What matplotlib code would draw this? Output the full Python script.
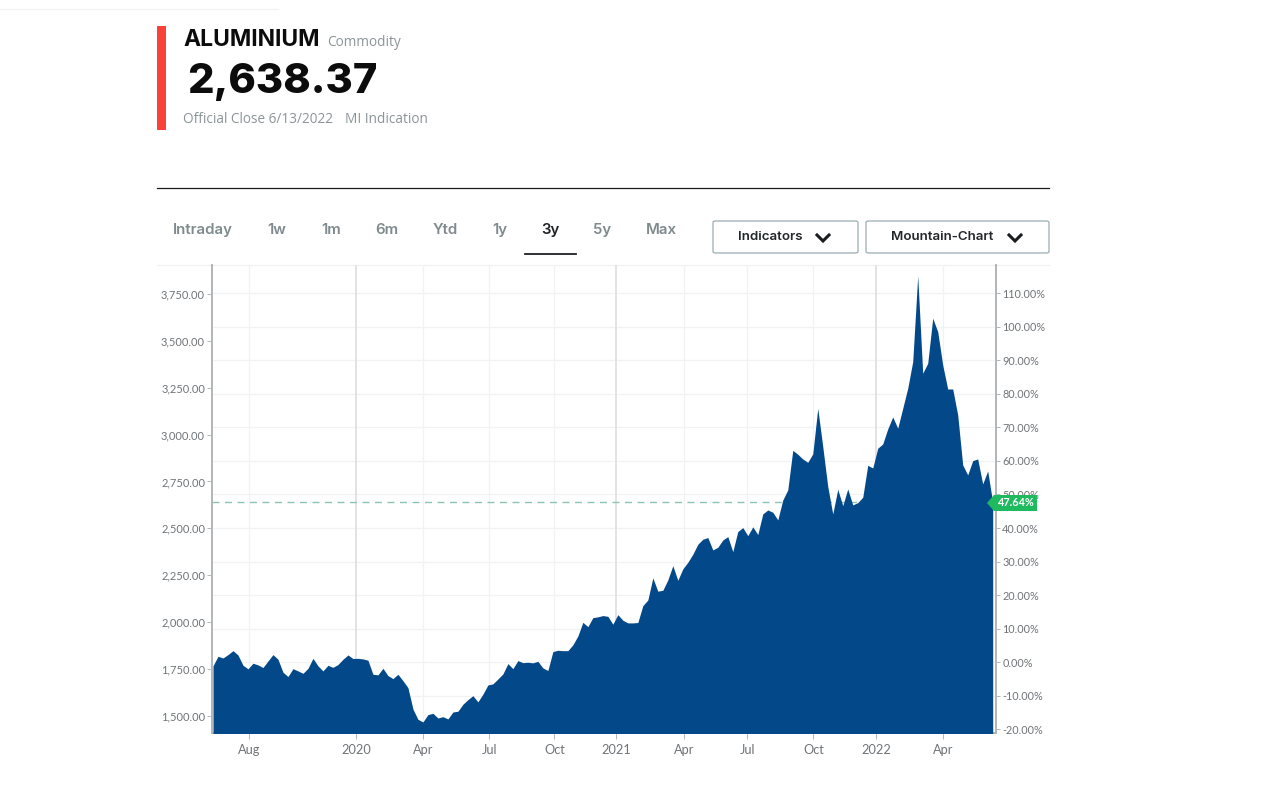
import matplotlib

matplotlib.use("Agg")
import matplotlib.dates as mdates
import matplotlib.pyplot as plt
import pandas as pd
from matplotlib.lines import Line2D
from matplotlib.patches import FancyBboxPatch, Polygon, Rectangle

# weekly closes
values = [
    1767, 1818, 1809, 1827, 1848, 1825, 1770, 1751, 1781, 1772,
    1758, 1793, 1827, 1802, 1733, 1710, 1752, 1740, 1727, 1754,
    1807, 1767, 1740, 1770, 1759, 1774, 1802, 1825, 1806, 1807,
    1804, 1797, 1722, 1719, 1754, 1715, 1699, 1722, 1688, 1651,
    1537, 1482, 1468, 1507, 1514, 1489, 1496, 1484, 1521, 1525,
    1562, 1587, 1608, 1575, 1616, 1665, 1671, 1697, 1724, 1779,
    1752, 1795, 1784, 1786, 1783, 1791, 1756, 1742, 1843, 1850,
    1848, 1848, 1879, 1926, 1999, 1976, 2024, 2028, 2035, 2031,
    1989, 2040, 2010, 1996, 1996, 1998, 2088, 2118, 2236, 2165,
    2170, 2225, 2301, 2223, 2284, 2319, 2362, 2415, 2442, 2451,
    2385, 2399, 2438, 2456, 2376, 2483, 2504, 2461, 2508, 2467,
    2577, 2598, 2586, 2545, 2651, 2705, 2916, 2895, 2870, 2852,
    2897, 3140, 2936, 2723, 2577, 2708, 2621, 2710, 2625, 2637,
    2666, 2836, 2822, 2927, 2950, 3030, 3094, 3034, 3140, 3247,
    3389, 3846, 3327, 3380, 3620, 3549, 3371, 3243, 3243, 3105,
    2838, 2785, 2861, 2870, 2737, 2806, 2638.37,
]
dates = pd.date_range(end="2022-06-13", periods=len(values), freq="7D")

tick_dates = ["2019-08-07", "2020-01-03", "2020-04-06", "2020-07-08", "2020-10-07", "2021-01-02",
              "2021-04-07", "2021-07-04", "2021-10-05", "2022-01-01", "2022-04-04"]
tick_labels = ["Aug", "2020", "Apr", "Jul", "Oct", "2021", "Apr", "Jul", "Oct", "2022", "Apr"]
year_labels = ["2020", "2021", "2022"]

price_ticks = [1500, 1750, 2000, 2250, 2500, 2750, 3000, 3250, 3500, 3750]
pct_ticks = [-20, -10, 0, 10, 20, 30, 40, 50, 60, 70, 80, 90, 100, 110]

last_close = 2638.37
last_pct = 47.64
tabs = ["Intraday", "1w", "1m", "6m", "Ytd", "1y", "3y", "5y", "Max"]
tab_centers = [203, 277, 331, 387, 445, 500, 550, 602, 661]

WIDTH, HEIGHT = 1280, 788
FILL = "#03498a"
GREY_TEXT = "#6f7478"
MUTED = "#8a9498"
AXIS_GREY = "#b4b7ba"
SANS = "Inter"


def fx(x):
    return x / WIDTH


def fy(y):
    return 1 - y / HEIGHT


def page_text(x, y, text, **kwargs):
    kwargs.setdefault("family", SANS)
    kwargs.setdefault("va", "center")
    return fig.text(fx(x), fy(y), text, **kwargs)


def page_line(xs, ys, **kwargs):
    fig.add_artist(Line2D([fx(x) for x in xs], [fy(y) for y in ys], **kwargs))


def button(x0, x1, label, label_x, chevron_x):
    box = FancyBboxPatch(
        (fx(x0), fy(253)), fx(x1 - x0), 32 / HEIGHT,
        boxstyle="round,pad=0,rounding_size=0.002", transform=fig.transFigure,
        facecolor="white", edgecolor="#8fa3a9", linewidth=0.8,
    )
    fig.add_artist(box)
    page_text(label_x, 237, label, fontsize=9.6, fontweight="semibold", color="#22282b")
    page_line([chevron_x - 6, chevron_x, chevron_x + 6], [235, 241, 235],
              color="#1a1d1f", linewidth=2.2, solid_joinstyle="miter")


fig = plt.figure(figsize=(WIDTH / 100, HEIGHT / 100), dpi=100, facecolor="white")

# header
page_line([0, 278], [9, 9], color="#f0f0f0", linewidth=0.8)
fig.add_artist(Rectangle((fx(157), fy(130)), 9 / WIDTH, 104 / HEIGHT, transform=fig.transFigure,
                         facecolor="#f9423a", edgecolor="none"))
page_text(183, 39.5, "ALUMINIUM", fontsize=16.5, fontweight="bold", color="#0c0c0c")
page_text(327, 42.5, "Commodity", fontsize=9.8, color=MUTED, family="Open Sans")
page_text(187, 82, f"{last_close:,.2f}", fontsize=30, fontweight="heavy", color="#0c0c0c")
page_text(183, 119.5, "Official Close 6/13/2022", fontsize=9.8, color=MUTED, family="Open Sans")
page_text(345, 119.5, "MI Indication", fontsize=9.8, color=MUTED, family="Open Sans")
page_line([157, 1049], [188, 188], color="#1a1a1a", linewidth=0.9)

# range tabs
for label, center in zip(tabs, tab_centers):
    active = label == "3y"
    page_text(center, 230, label, fontsize=10.8, fontweight="semibold", ha="center",
              color="#1e2224" if active else "#7f8a8e")
page_line([525, 576], [253.5, 253.5], color="#1e2224", linewidth=1.3)

button(713, 858, "Indicators", 738, 823)
button(866, 1049, "Mountain-Chart", 891, 1015)
page_line([157, 1049], [265, 265], color="#f0f0f0", linewidth=0.8)

# chart, the price axes sit above the percent grid
ax_pct = fig.add_axes([fx(212), fy(733), fx(996 - 212), (733 - 265) / HEIGHT])
ax = ax_pct.twinx()
ax.set_zorder(2)
ax.patch.set_visible(False)
ax.xaxis.set_visible(True)

for label, tick in zip(tick_labels, tick_dates):
    is_year = label in year_labels
    ax.axvline(pd.Timestamp(tick), color="#dedede" if is_year else "#f2f2f2",
               linewidth=1.2 if is_year else 0.9, zorder=1)

ax.axhline(last_close, color="#8cc5ae", linewidth=1.0, linestyle=(0, (5, 4)), zorder=2)
ax.fill_between(dates, values, 1000, color=FILL, linewidth=0, zorder=3)

day_px = 0.714
ax.set_xlim(dates[0] - pd.Timedelta(days=1 / day_px), dates[-1] + pd.Timedelta(days=3.3 / day_px))
ax.set_ylim(1409, 3904)
ax_pct.set_ylim((1409 / 1787 - 1) * 100, (3904 / 1787 - 1) * 100)

ax.yaxis.tick_left()
ax.set_yticks(price_ticks)
ax.set_yticklabels([f"{v:,.2f}" for v in price_ticks], fontsize=8, color=GREY_TEXT, family="Lato")
ax.tick_params(axis="y", length=3.5, width=0.7, color=AXIS_GREY, pad=1.5)

ax_pct.yaxis.tick_right()
ax_pct.set_yticks(pct_ticks)
ax_pct.set_yticklabels([f"{v:.2f}%" for v in pct_ticks], fontsize=7.8, color=GREY_TEXT, family="Lato")
ax_pct.tick_params(axis="y", length=3, width=0.7, color=AXIS_GREY, pad=1.5)
ax_pct.tick_params(axis="x", bottom=False, labelbottom=False)
ax_pct.grid(True, axis="y", color="#f2f2f2", linewidth=0.9)
ax_pct.set_axisbelow(True)

# the x axis is shared, so set its ticks last and only here
ax.set_xticks([mdates.date2num(pd.Timestamp(t)) for t in tick_dates])
ax.set_xticklabels(tick_labels, fontsize=9.2, color=GREY_TEXT, family="Lato")
ax.tick_params(axis="x", bottom=True, labelbottom=True, length=4, width=0.7, color=AXIS_GREY, pad=4)

for axis in (ax, ax_pct):
    axis.spines["top"].set_visible(False)
    for side in ("left", "right", "bottom"):
        axis.spines[side].set_color(AXIS_GREY)
        axis.spines[side].set_linewidth(1.4)

# last value flag
fig.add_artist(Polygon(
    [(fx(987), fy(503)), (fx(994), fy(495)), (fx(1037), fy(495)), (fx(1037), fy(511)), (fx(994), fy(511))],
    closed=True, transform=fig.transFigure, facecolor="#1fb95f", edgecolor="none", zorder=5,
))
page_text(1016, 503, f"{last_pct:.2f}%", fontsize=7.8, fontweight="bold", color="white", ha="center",
          family="Lato", zorder=6)

fig.savefig("out.png", dpi=100)
plt.close(fig)
